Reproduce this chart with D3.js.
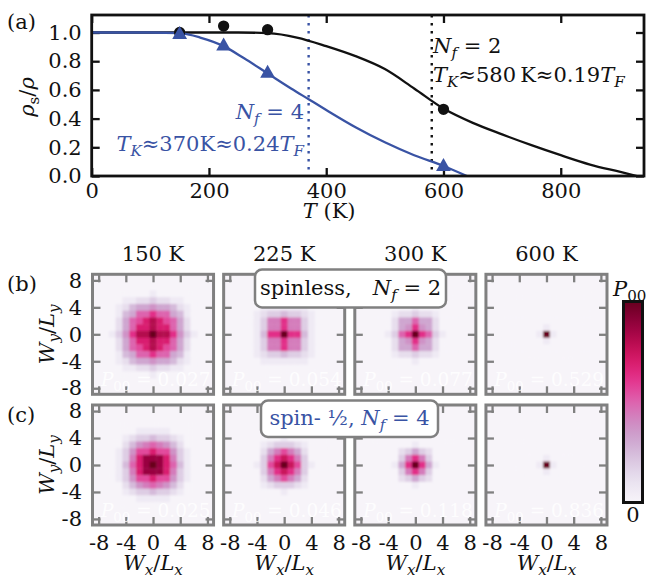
<!DOCTYPE html>
<html>
<head>
<meta charset="utf-8">
<script src="https://cdn.jsdelivr.net/npm/d3@7"></script>
<style>
body { margin: 0; background: #fff; }
text { white-space: pre; }
</style>
</head>
<body>
<svg class="view" width="646" height="578"></svg>
<script>
/* global d3 */

// ---- panel (a): superfluid fraction vs temperature ----
var nf2CurveT = [0, 150, 250, 300, 350, 400, 450, 500, 550, 600, 650, 700, 750, 800, 850, 900, 930];
var nf2CurveV = [1.0, 1.0, 1.0, 0.995, 0.965, 0.905, 0.835, 0.745, 0.61, 0.47, 0.37, 0.29, 0.215, 0.145, 0.08, 0.03, 0.0];
var nf4CurveT = [0, 100, 150, 185, 225, 260, 300, 340, 370, 400, 450, 500, 550, 600, 640];
var nf4CurveV = [1.0, 1.0, 0.995, 0.965, 0.905, 0.82, 0.715, 0.61, 0.535, 0.46, 0.34, 0.235, 0.145, 0.07, 0.0];
var sampleT = [150, 225, 300, 600];
var nf2Points = [1.0, 1.045, 1.02, 0.465];
var nf4Points = [0.985, 0.905, 0.715, 0.065];
var kondoT2 = 580;
var kondoT4 = 370;
var xTicksA = [0, 200, 400, 600, 800];
var yTicksA = [0, 0.2, 0.4, 0.6, 0.8, 1.0];

// ---- panels (b),(c): winding number histograms ----
// rows y=6..-6, cols x=-6..6, level 0..g (0..16), relative to each panel's maximum
var tempLabels = ['150 K', '225 K', '300 K', '600 K'];
var p00Spinless = ['0.027', '0.054', '0.077', '0.529'];
var p00Spinful = ['0.025', '0.046', '0.118', '0.836'];
var gridTicks = [-8, -4, 0, 4, 8];

var spinless150 = [
    '0000001000000',
    '0011223221100',
    '0124556554210',
    '014588a885410',
    '02589bdb98520',
    '0258bbdbb8520',
    '136addgdda631',
    '0258bbdbb8520',
    '02589bdb98520',
    '014588a885410',
    '0124556554210',
    '0011223221100',
    '0000001000000'];
var spinless225 = [
    '0000000000000',
    '0000000000000',
    '0001111111000',
    '0012334332100',
    '001377a773100',
    '001377a773100',
    '0014aagaa4100',
    '001377a773100',
    '001377a773100',
    '0012334332100',
    '0001111111000',
    '0000000000000',
    '0000000000000'];
var spinless300 = [
    '0000000000000',
    '0000000000000',
    '0000001000000',
    '0001223221000',
    '0002558552000',
    '000256a652000',
    '00138aga83100',
    '000256a652000',
    '0002558552000',
    '0001223221000',
    '0000001000000',
    '0000000000000',
    '0000000000000'];
var spinless600 = [
    '0000000000000',
    '0000000000000',
    '0000000000000',
    '0000000000000',
    '0000000000000',
    '0000001000000',
    '000001g100000',
    '0000001000000',
    '0000000000000',
    '0000000000000',
    '0000000000000',
    '0000000000000',
    '0000000000000'];
var spinful150 = [
    '0000000000000',
    '0000111110000',
    '0012334332100',
    '0024678764200',
    '013699b996310',
    '0137beeeb7310',
    '0148begeb8410',
    '0137beeeb7310',
    '013699b996310',
    '0024678764200',
    '0012334332100',
    '0000111110000',
    '0000000000000'];
var spinful225 = [
    '0000000000000',
    '0000000000000',
    '0000001000000',
    '0001233321000',
    '0002579752000',
    '00037aca73000',
    '00139cgc93100',
    '00037aca73000',
    '0002579752000',
    '0001233321000',
    '0000001000000',
    '0000000000000',
    '0000000000000'];
var spinful300 = [
    '0000000000000',
    '0000000000000',
    '0000000000000',
    '0000001000000',
    '0000235320000',
    '000037a730000',
    '00015aga51000',
    '000037a730000',
    '0000235320000',
    '0000001000000',
    '0000000000000',
    '0000000000000',
    '0000000000000'];
var spinful600 = [
    '0000000000000',
    '0000000000000',
    '0000000000000',
    '0000000000000',
    '0000000000000',
    '0000001000000',
    '000001g100000',
    '0000001000000',
    '0000000000000',
    '0000000000000',
    '0000000000000',
    '0000000000000',
    '0000000000000'];

var svg = d3.select('.view');
var FS = 21;
var SERIF = 'DejaVu Serif';
var blue = '#3953a4', grey = '#808080';

// small mathtext helper: parts are [text, code], code r/i, prefix s = subscript
function addMath(text, parts) {
    var shift = 0;
    text.attr('font-family', SERIF);
    parts.forEach(function (p) {
        var sub = p[1].charAt(0) === 's';
        var ts = text.append('tspan').text(p[0]);
        var target = sub ? 5 : 0;
        if (target !== shift) {
            ts.attr('dy', target - shift);
            shift = target;
        }
        if (sub) ts.attr('font-size', '0.72em');
        if (p[1].indexOf('i') >= 0) ts.attr('font-style', 'italic');
    });
    return text;
}

function styleAxis(g, color) {
    g.attr('font-family', SERIF).attr('font-size', FS);
    g.select('.domain').remove();
    g.selectAll('line').attr('stroke', color).attr('stroke-width', 2.3);
    g.selectAll('text').attr('fill', '#111').attr('font-family', SERIF);
}

// ================= panel (a) =================
var xA = d3.scaleLinear().domain([0, 942]).range([91.7, 644]);
var yA = d3.scaleLinear().domain([0, 1.122]).range([176, 15]);
var gA = svg.append('g');

gA.append('g').attr('transform', 'translate(0,176)')
    .call(d3.axisBottom(xA).tickValues(xTicksA).tickSize(-8).tickPadding(7).tickFormat(String))
    .call(styleAxis, '#111');
gA.append('g').attr('transform', 'translate(0,15)')
    .call(d3.axisTop(xA).tickValues(xTicksA).tickSize(-8).tickFormat(''))
    .call(styleAxis, '#111');
gA.append('g').attr('transform', 'translate(91.7,0)')
    .call(d3.axisLeft(yA).tickValues(yTicksA).tickSize(-8).tickPadding(10).tickFormat(d3.format('.1f')))
    .call(styleAxis, '#111');
gA.append('g').attr('transform', 'translate(644,0)')
    .call(d3.axisRight(yA).tickValues(yTicksA).tickSize(-8).tickFormat(''))
    .call(styleAxis, '#111');

// dotted Kondo lines
[[kondoT4, blue], [kondoT2, '#111']].forEach(function (k) {
    gA.append('line')
        .attr('x1', xA(k[0])).attr('x2', xA(k[0]))
        .attr('y1', yA.range()[1]).attr('y2', yA.range()[0])
        .attr('stroke', k[1]).attr('stroke-width', 2.4)
        .attr('stroke-dasharray', '2.4,5.6');
});

var line = d3.line()
    .x(function (d) { return xA(d[0]); })
    .y(function (d) { return yA(d[1]); })
    .curve(d3.curveMonotoneX);

gA.append('path').datum(d3.zip(nf2CurveT, nf2CurveV))
    .attr('d', line).attr('fill', 'none').attr('stroke', '#111').attr('stroke-width', 2.3);
gA.append('path').datum(d3.zip(nf4CurveT, nf4CurveV))
    .attr('d', line).attr('fill', 'none').attr('stroke', blue).attr('stroke-width', 2.3);

gA.selectAll('.dot2').data(d3.zip(sampleT, nf2Points)).enter().append('path')
    .attr('d', d3.symbol(d3.symbolCircle, 100))
    .attr('transform', function (d) { return 'translate(' + xA(d[0]) + ',' + yA(d[1]) + ')'; })
    .attr('fill', '#111');
gA.selectAll('.tri4').data(d3.zip(sampleT, nf4Points)).enter().append('path')
    .attr('d', d3.symbol(d3.symbolTriangle, 95))
    .attr('transform', function (d) { return 'translate(' + xA(d[0]) + ',' + yA(d[1]) + ')'; })
    .attr('fill', blue);

// frame
gA.append('rect').attr('x', 91.7).attr('y', 15).attr('width', 644 - 91.7).attr('height', 161)
    .attr('fill', 'none').attr('stroke', '#111').attr('stroke-width', 2.8);

// annotations
addMath(gA.append('text').attr('x', 304).attr('y', 119).attr('text-anchor', 'end')
    .attr('font-size', FS).attr('fill', blue),
    [['N', 'i'], ['f', 'si'], [' = 4', 'r']]);
addMath(gA.append('text').attr('x', 304).attr('y', 151).attr('text-anchor', 'end')
    .attr('font-size', FS).attr('fill', blue),
    [['T', 'i'], ['K', 'si'], ['\u2248370K\u22480.24', 'r'], ['T', 'i'], ['F', 'si']]);
addMath(gA.append('text').attr('x', 433).attr('y', 53)
    .attr('font-size', FS).attr('fill', '#111'),
    [['N', 'i'], ['f', 'si'], [' = 2', 'r']]);
addMath(gA.append('text').attr('x', 433).attr('y', 82)
    .attr('font-size', FS).attr('fill', '#111'),
    [['T', 'i'], ['K', 'si'], ['\u2248580\u2009K\u22480.19', 'r'], ['T', 'i'], ['F', 'si']]);

addMath(svg.append('text').attr('transform', 'translate(34,97) rotate(-90)')
    .attr('text-anchor', 'middle').attr('font-size', FS).attr('fill', '#111'),
    [['\u03c1', 'i'], ['s', 'sr'], ['/', 'r'], ['\u03c1', 'i']]);
addMath(svg.append('text').attr('x', xA(405)).attr('y', 218)
    .attr('text-anchor', 'middle').attr('font-size', FS).attr('fill', '#111'),
    [['T', 'i'], [' (K)', 'r']]);
addMath(svg.append('text').attr('x', 7).attr('y', 29).attr('font-size', FS).attr('fill', '#111'),
    [['(a)', 'r']]);

// ================= panels (b), (c) =================
var band = d3.scaleBand().domain(tempLabels).range([92.5, 607]).paddingInner(0.077);
var pw = band.bandwidth();
var rowTops = [274.3, 405];
var hx = d3.scaleLinear().domain([-8.9, 8.9]).range([0, pw]);
var hy = d3.scaleLinear().domain([-8.9, 8.9]).range([120, 0]);
var color = function (lvl) { return d3.interpolatePuRd(lvl / 16); };

var defs = svg.append('defs');
defs.append('filter').attr('id', 'soft')
    .append('feGaussianBlur').attr('stdDeviation', 0.8);
defs.append('clipPath').attr('id', 'pclip')
    .append('rect').attr('width', pw).attr('height', 120);

var rowsData = [
    {grids: [spinless150, spinless225, spinless300, spinless600], p00: p00Spinless, tag: '(b)'},
    {grids: [spinful150, spinful225, spinful300, spinful600], p00: p00Spinful, tag: '(c)'}
];

rowsData.forEach(function (row, ri) {
    var top = rowTops[ri];
    row.grids.forEach(function (grid, ci) {
        var g = svg.append('g').attr('transform', 'translate(' + band(tempLabels[ci]) + ',' + top + ')');
        g.append('rect').attr('width', pw).attr('height', 120).attr('fill', color(0));
        var cells = [];
        grid.forEach(function (s, r) {
            s.split('').forEach(function (ch, c) {
                cells.push({x: c - 6, y: 6 - r, v: parseInt(ch, 17)});
            });
        });
        g.append('g').attr('clip-path', 'url(#pclip)')
            .append('g').attr('filter', 'url(#soft)')
            .selectAll('rect').data(cells).enter().append('rect')
            .attr('x', function (d) { return hx(d.x - 0.5); })
            .attr('y', function (d) { return hy(d.y + 0.5); })
            .attr('width', hx(0.5) - hx(-0.5) + 0.4)
            .attr('height', hy(-0.5) - hy(0.5) + 0.4)
            .attr('fill', function (d) { return color(d.v); });

        g.append('g').attr('transform', 'translate(0,120)')
            .call(d3.axisBottom(hx).tickValues(gridTicks).tickSize(-8).tickPadding(10)
                .tickFormat(ri === 1 ? String : ''))
            .call(styleAxis, grey);
        g.append('g')
            .call(d3.axisTop(hx).tickValues(gridTicks).tickSize(-8).tickFormat(''))
            .call(styleAxis, grey);
        g.append('g')
            .call(d3.axisLeft(hy).tickValues(gridTicks).tickSize(-8).tickPadding(10.5)
                .tickFormat(ci === 0 ? String : ''))
            .call(styleAxis, grey);
        g.append('g').attr('transform', 'translate(' + pw + ',0)')
            .call(d3.axisRight(hy).tickValues(gridTicks).tickSize(-8).tickFormat(''))
            .call(styleAxis, grey);
        g.append('rect').attr('width', pw).attr('height', 120)
            .attr('fill', 'none').attr('stroke', grey).attr('stroke-width', 3);

        addMath(g.append('text').attr('x', pw - 3).attr('y', 112).attr('text-anchor', 'end')
            .attr('font-size', 18.5).attr('fill', '#fff').attr('fill-opacity', 0.85),
            [['P', 'i'], ['00', 'sr'], [' = ' + row.p00[ci], 'r']]);

        if (ri === 0) {
            addMath(svg.append('text').attr('x', band(tempLabels[ci]) + pw / 2).attr('y', 261)
                .attr('text-anchor', 'middle').attr('font-size', FS).attr('fill', '#111'),
                [[tempLabels[ci], 'r']]);
        } else {
            addMath(svg.append('text').attr('x', band(tempLabels[ci]) + pw / 2).attr('y', 570)
                .attr('text-anchor', 'middle').attr('font-size', FS).attr('fill', '#111'),
                [['W', 'i'], ['x', 'si'], ['/', 'r'], ['L', 'i'], ['x', 'si']]);
        }
    });
    addMath(svg.append('text').attr('x', 7).attr('y', top + 17).attr('font-size', FS).attr('fill', '#111'),
        [[row.tag, 'r']]);
    addMath(svg.append('text').attr('transform', 'translate(54,' + (top + 60) + ') rotate(-90)')
        .attr('text-anchor', 'middle').attr('font-size', FS).attr('fill', '#111'),
        [['W', 'i'], ['y', 'si'], ['/', 'r'], ['L', 'i'], ['y', 'si']]);
});

// labelled boxes
svg.append('rect').attr('x', 255).attr('y', 269.5).attr('width', 191).attr('height', 38).attr('rx', 7)
    .attr('fill', '#fff').attr('stroke', grey).attr('stroke-width', 2.5);
addMath(svg.append('text').attr('x', 350.5).attr('y', 295).attr('text-anchor', 'middle')
    .attr('font-size', FS).attr('fill', '#111'),
    [['spinless,\u2002\u2002', 'r'], ['N', 'i'], ['f', 'si'], [' = 2', 'r']]);

svg.append('rect').attr('x', 261).attr('y', 400.5).attr('width', 177).attr('height', 36.5).attr('rx', 7)
    .attr('fill', '#fff').attr('stroke', grey).attr('stroke-width', 2.5);
addMath(svg.append('text').attr('x', 349.5).attr('y', 425).attr('text-anchor', 'middle')
    .attr('font-size', FS).attr('fill', blue),
    [['spin- \u00bd, ', 'r'], ['N', 'i'], ['f', 'si'], [' = 4', 'r']]);

// colour bar
var grad = defs.append('linearGradient').attr('id', 'cb')
    .attr('x1', 0).attr('y1', 1).attr('x2', 0).attr('y2', 0);
d3.range(0, 1.0001, 0.05).forEach(function (t) {
    grad.append('stop').attr('offset', t).attr('stop-color', d3.interpolatePuRd(t));
});
svg.append('rect').attr('x', 623.5).attr('y', 301.5).attr('width', 19).attr('height', 201)
    .attr('fill', 'url(#cb)').attr('stroke', '#111').attr('stroke-width', 3);
addMath(svg.append('text').attr('x', 613).attr('y', 296).attr('font-size', FS).attr('fill', '#111'),
    [['P', 'i'], ['00', 'sr']]);
addMath(svg.append('text').attr('x', 633).attr('y', 522).attr('text-anchor', 'middle')
    .attr('font-size', FS).attr('fill', '#111'),
    [['0', 'r']]);
</script>
</body>
</html>
